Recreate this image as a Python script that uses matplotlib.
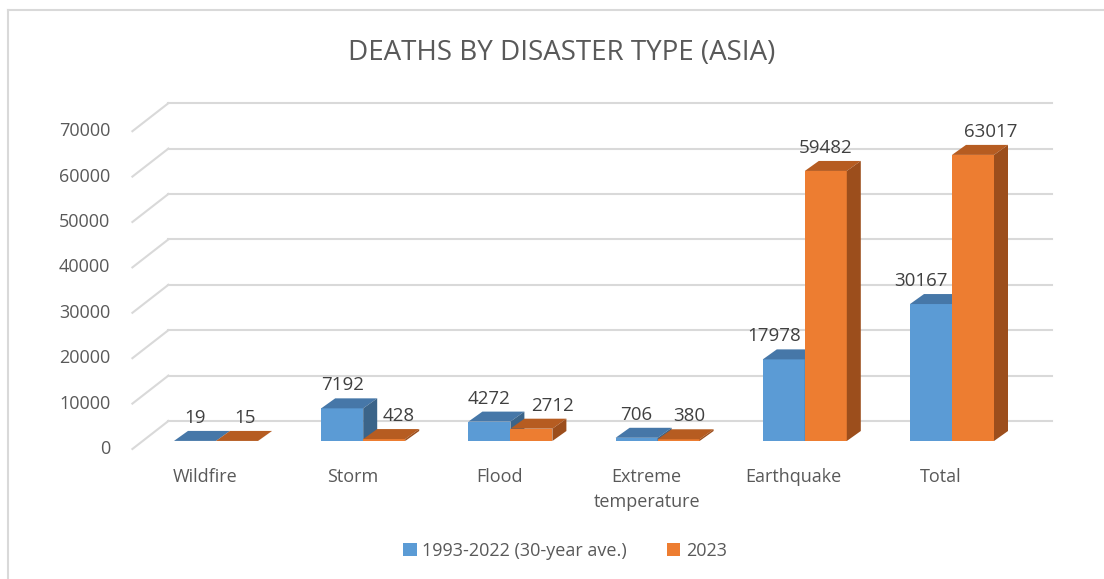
import numpy as np
import matplotlib
matplotlib.use("Agg")
from matplotlib import pyplot as plt
from matplotlib.patches import Polygon, Patch
from matplotlib.lines import Line2D
from matplotlib.transforms import offset_copy

plt.rcParams['font.family'] = ['Open Sans', 'DejaVu Sans']

categories = ['Wildfire', 'Storm', 'Flood', 'Extreme\ntemperature', 'Earthquake', 'Total']
avg_30yr = [19, 7192, 4272, 706, 17978, 30167]
deaths_2023 = [15, 428, 2712, 380, 59482, 63017]
series_names = ['1993-2022 (30-year ave.)', '2023']
yticks = [0, 10000, 20000, 30000, 40000, 50000, 60000, 70000]

# label nudges in pixels (Excel moves some labels sideways)
nudge_avg = [0, 0, 0, 0, -10, -10]
nudge_2023 = [8, 14, 21, 11, 0, 18]

blue = ('#5B9BD5', '#4677A8', '#3B6489')     # front, top, side
orange = ('#ED7D31', '#B65C21', '#9C4E1C')
grid_c = '#D9D9D9'
txt_c = '#595959'

W, H, DPI = 1104, 579, 100
fig = plt.figure(figsize=(W / DPI, H / DPI), dpi=DPI)

ax_l, ax_r = 142.4, 1025.6
ax_b, ax_t = 441.0, 123.2
ax = fig.add_axes([ax_l / W, 1 - ax_b / H, (ax_r - ax_l) / W, (ax_b - ax_t) / H])
ax.set_xlim(-0.5, 5.5)
ax.set_ylim(0, 70000)
ax.axis('off')

px_x = (ax_r - ax_l) / 6.0
px_y = (ax_b - ax_t) / 70000.0
bw = 42 / px_x
ddx, ddy = 14 / px_x, 10 / px_y   # bar depth

# back wall gridlines + floor diagonals
ytr = ax.get_yaxis_transform()
back = offset_copy(ytr, fig, x=26, y=20, units='dots')
for v in yticks:
    ax.plot([0, 1], [v, v], color=grid_c, lw=1.5, transform=back, clip_on=False, zorder=0)
    # diagonal from front plane to back wall
    p0 = ytr.transform((0, v)) + np.array([-10, -8])
    p1 = ytr.transform((0, v)) + np.array([26, 20])
    fig.add_artist(Line2D([p0[0] / W, p1[0] / W], [p0[1] / H, p1[1] / H],
                          color=grid_c, lw=1.5, transform=fig.transFigure, zorder=0))
    ax.text(0, v, str(v), transform=offset_copy(ytr, fig, x=-32, y=-8, units='dots'),
            ha='right', va='center', fontsize=13, color=txt_c)


def bar3d(x0, v, cols):
    x1 = x0 + bw
    ax.bar(x0, v, width=bw, align='edge', color=cols[0], zorder=2)
    ax.add_patch(Polygon([(x0, v), (x1, v), (x1 + ddx, v + ddy), (x0 + ddx, v + ddy)],
                         closed=True, facecolor=cols[1], edgecolor='none', zorder=2))
    ax.add_patch(Polygon([(x1, 0), (x1, v), (x1 + ddx, v + ddy), (x1 + ddx, ddy)],
                         closed=True, facecolor=cols[2], edgecolor='none', zorder=2))


x = np.arange(len(categories))
for i in x:
    bar3d(i - bw, avg_30yr[i], blue)
    bar3d(i, deaths_2023[i], orange)

for i in x:
    ax.text(i - bw / 2, avg_30yr[i], str(avg_30yr[i]),
            transform=offset_copy(ax.transData, fig, x=nudge_avg[i], y=23, units='dots'),
            ha='center', va='center', fontsize=13.5, color='#404040', zorder=5)
    ax.text(i + bw / 2, deaths_2023[i], str(deaths_2023[i]),
            transform=offset_copy(ax.transData, fig, x=nudge_2023[i], y=23, units='dots'),
            ha='center', va='center', fontsize=13.5, color='#404040', zorder=5)
    ax.text(i, 0, categories[i], transform=offset_copy(ax.transData, fig, x=-11, y=-27, units='dots'),
            ha='center', va='top', fontsize=13, color=txt_c, linespacing=1.5,
            clip_on=False)

fig.text(562 / W, 1 - 53 / H, 'DEATHS BY DISASTER TYPE (ASIA)', ha='center', va='center',
         fontsize=20, color=txt_c)

handles = [Patch(facecolor=blue[0]), Patch(facecolor=orange[0])]
fig.legend(handles, series_names, loc='center', bbox_to_anchor=(565 / W, 1 - 551 / H), ncol=2,
           frameon=False, fontsize=13, labelcolor=txt_c, handlelength=0.75, handleheight=0.75,
           handletextpad=0.3, columnspacing=2.2)

# chart border (top and left visible)
fig.add_artist(Line2D([7.5 / W, 7.5 / W], [0, 1 - 9.5 / H], color=grid_c, lw=1.5))
fig.add_artist(Line2D([7.5 / W, 1], [1 - 9.5 / H, 1 - 9.5 / H], color=grid_c, lw=1.5))

fig.savefig('out.png', dpi=DPI)
